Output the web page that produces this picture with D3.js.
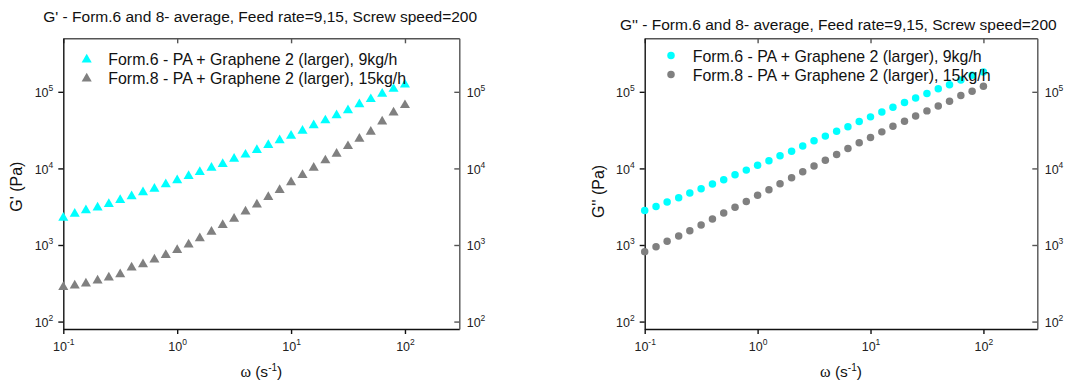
<!DOCTYPE html>
<html><head><meta charset="utf-8">
<script src="https://cdn.jsdelivr.net/npm/d3@7"></script>
<style>
body{margin:0;background:#fff;}
svg{display:block;font-family:"Liberation Sans",Arial,sans-serif;}
</style></head>
<body>
<svg id="chart" width="1067" height="384"></svg>
<script>
// ---- data ----
const omega = [0.1,0.126,0.158,0.2,0.251,0.316,0.398,0.501,0.631,0.794,1,1.26,1.58,2,2.51,3.16,3.98,5.01,6.31,7.94,10,12.6,15.8,20,25.1,31.6,39.8,50.1,63.1,79.4,100];
const seriesNames = ["Form.6 - PA + Graphene 2 (larger), 9kg/h","Form.8 - PA + Graphene 2 (larger), 15kg/h"];
const gPrime6 = [2270,2560,2830,3070,3430,3870,4320,4870,5420,6180,6980,7940,8950,10200,11400,13300,15100,17400,20100,23300,26600,31000,36400,42300,49500,57500,68900,80100,94000,109000,124000];
const gPrime8 = [283,295,313,343,375,415,506,560,644,741,861,1010,1220,1490,1820,2200,2740,3360,4220,5210,6560,8180,10200,12700,15500,19500,24300,30000,41000,53700,66900];
const gDouble6 = [2830,3190,3640,4140,4760,5420,6240,7110,8260,9500,11000,12600,14600,16800,19600,22900,26400,30600,34900,41000,47100,54700,63000,72500,83300,95100,110000,124000,143000,165000,182000];
const gDouble8 = [818,950,1120,1310,1540,1820,2180,2610,3100,3710,4450,5260,6300,7540,9030,10750,12800,15200,18200,21600,25400,30000,35600,41400,48500,56400,65500,75400,89500,102000,118000];
const xMajor = [0.1,1,10,100];
const yMajor = [100,1000,10000,100000];
const titles = ["G' - Form.6 and 8- average, Feed rate=9,15, Screw speed=200","G'' - Form.6 and 8- average, Feed rate=9,15, Screw speed=200"];
const yTitles = ["G' (Pa)","G'' (Pa)"];
const colors = ["#00ffff","#808080"];

const svg = d3.select("#chart");

function minors(lo, hi){
  const out=[];
  for(let e=Math.floor(Math.log10(lo)); e<=Math.ceil(Math.log10(hi)); e++){
    for(let m=2;m<=9;m++){const v=m*Math.pow(10,e); if(v>=lo*0.999 && v<=hi*1.001) out.push(v);}
  }
  return out;
}

function powLabel(sel, anchor){
  sel.each(function(d){
    const t=d3.select(this);
    t.text(null).attr("text-anchor",anchor).attr("dy",null);
    t.append("tspan").text("10");
    t.append("tspan").attr("dy","-6").attr("font-size","8.5px").text(Math.round(Math.log10(d)));
  });
}

function panel(p){
  const g = svg.append("g");
  const x = d3.scaleLog().domain([0.1,300]).range([p.x0,p.x1]);
  const y = d3.scaleLog().domain([80,5e5]).range([p.y1,p.y0]);
  const axCol = "#111", axCol2 = "#555";

  // bottom axis
  const gb = g.append("g").attr("transform",`translate(0,${p.y1})`);
  gb.call(d3.axisBottom(x).tickValues(minors(0.1,300)).tickSize(3).tickFormat(""));
  gb.call(d3.axisBottom(x).tickValues(xMajor).tickSize(5).tickSizeOuter(0));
  gb.selectAll(".tick text").attr("font-size","12.5px").attr("fill","#222").call(powLabel,"middle").attr("y",22);
  // top axis
  const gt = g.append("g").attr("transform",`translate(0,${p.y0})`);
  gt.call(d3.axisTop(x).tickValues(minors(0.1,300)).tickSize(-3).tickFormat(""));
  gt.call(d3.axisTop(x).tickValues(xMajor).tickSize(-5).tickSizeOuter(0).tickFormat(""));
  // left axis
  const gl = g.append("g").attr("transform",`translate(${p.x0},0)`);
  gl.call(d3.axisLeft(y).tickValues(minors(80,5e5)).tickSize(3).tickFormat(""));
  gl.call(d3.axisLeft(y).tickValues(yMajor).tickSize(5).tickSizeOuter(0));
  gl.selectAll(".tick text").attr("font-size","12.5px").attr("fill","#222").call(powLabel,"end").attr("x",-10).attr("y",5);
  // right axis
  const gr = g.append("g").attr("transform",`translate(${p.x1},0)`);
  gr.call(d3.axisRight(y).tickValues(minors(80,5e5)).tickSize(-3).tickFormat(""));
  gr.call(d3.axisRight(y).tickValues(yMajor).tickSize(-5).tickSizeOuter(0));
  gr.selectAll(".tick text").attr("font-size","12.5px").attr("fill","#222").call(powLabel,"start").attr("x",7.4).attr("y",5);
  [gb,gl].forEach(a=>a.selectAll("path,line").attr("stroke",axCol).attr("stroke-width",1.4));
  [gt,gr].forEach(a=>a.selectAll("path,line").attr("stroke",axCol2).attr("stroke-width",1.4));

  // data
  const sym = p.marker==="tri" ? d3.symbol().type(d3.symbolTriangle).size(44) : d3.symbol().type(d3.symbolCircle).size(44);
  p.series.forEach((s,k)=>{
    g.append("g").selectAll("path").data(omega.map((w,i)=>[w,s[i]])).join("path")
      .attr("d",sym).attr("fill",colors[k])
      .attr("transform",d=>`translate(${x(d[0])},${y(d[1])})`);
  });

  // legend
  seriesNames.forEach((n,k)=>{
    const ly = p.legY + k*19;
    g.append("path").attr("d",sym).attr("fill",colors[k]).attr("transform",`translate(${p.x0+p.legMx},${ly})`);
    g.append("text").attr("x",p.x0+p.legTx).attr("y",ly+p.legDy).attr("font-size","15.9px").attr("fill","#111").text(n);
  });

  // titles
  g.append("text").attr("x",p.titleX).attr("y",p.titleY).attr("font-size","15.5px").attr("fill","#111").text(p.title);
  g.append("text").attr("transform",`translate(${p.x0+p.yTx},${p.yTy}) rotate(-90)`).attr("text-anchor","middle").attr("font-size","16px").attr("fill","#111").text(p.yTitle);
  const xl = g.append("text").attr("x",(p.x0+p.x1)/2).attr("y",377).attr("text-anchor","middle").attr("font-size","15.5px").attr("fill","#111");
  xl.append("tspan").attr("font-family","'Liberation Serif',serif").attr("font-size","16px").text("ω");
  xl.append("tspan").text(" (s");
  xl.append("tspan").attr("dy","-6").attr("font-size","10px").text("-1");
  xl.append("tspan").attr("dy","6").text(")");
}

panel({x0:63.3,x1:459.3,y0:38.3,y1:329,series:[gPrime6,gPrime8],marker:"tri",legY:59.5,legMx:23.4,legTx:45,legDy:5.5,title:titles[0],yTitle:yTitles[0],titleX:43.3,titleY:21.7,yTx:-41.3,yTy:186.7});
panel({x0:644.7,x1:1037.3,y0:38.3,y1:329,series:[gDouble6,gDouble8],marker:"circ",legY:55.5,legMx:26.3,legTx:48,legDy:6,title:titles[1],yTitle:yTitles[1],titleX:620,titleY:30,yTx:-40.7,yTy:191.5});
</script>
</body></html>
